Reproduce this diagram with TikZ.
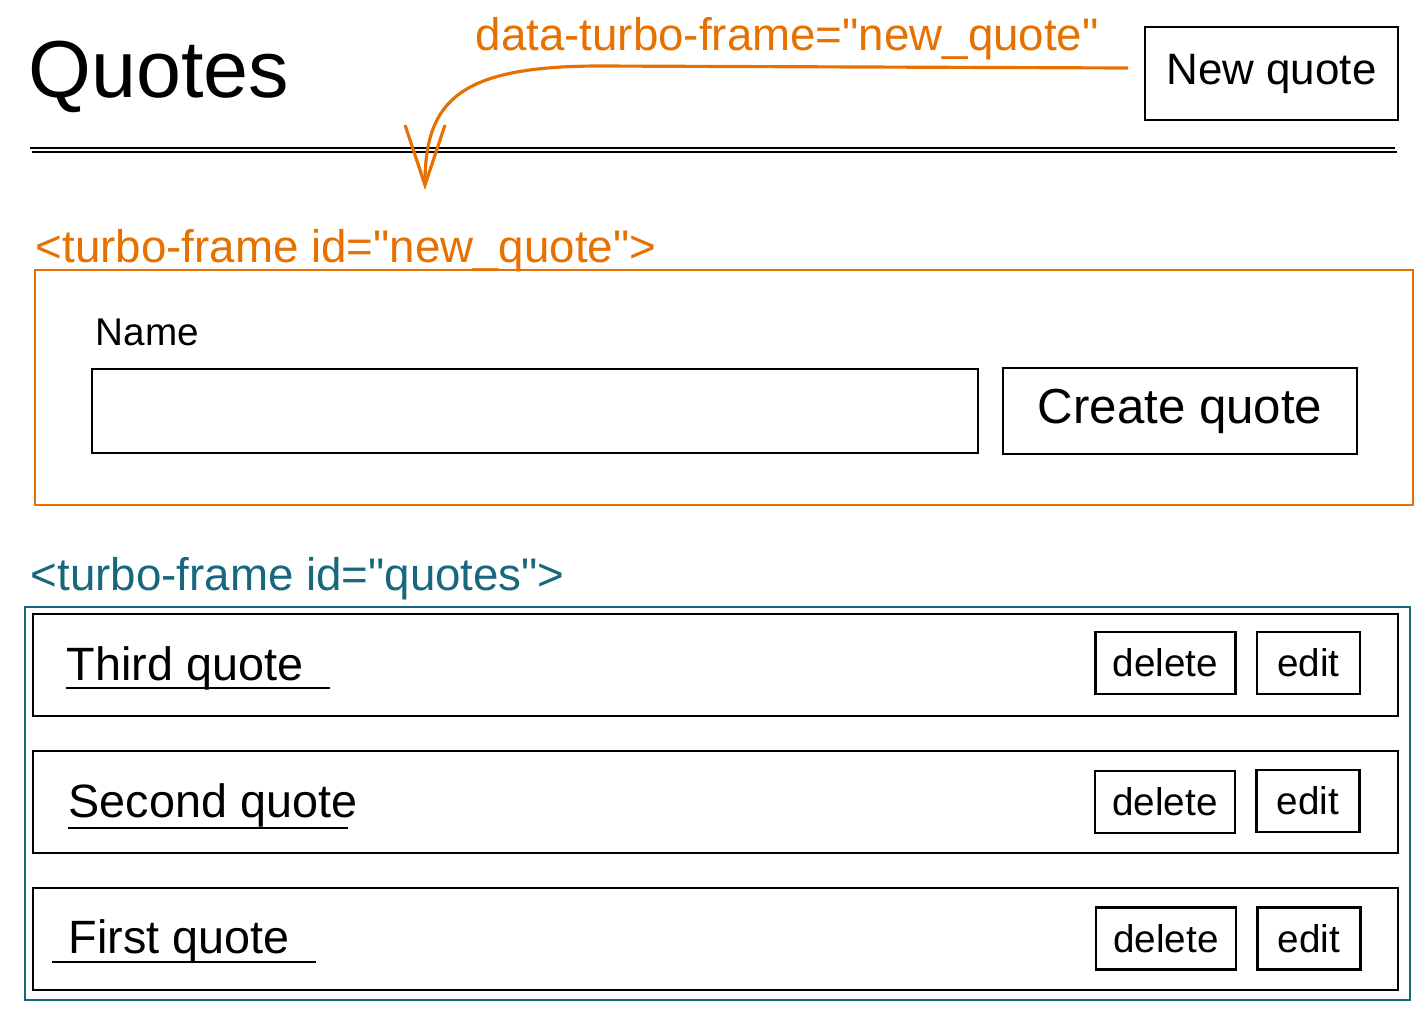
\documentclass[tikz,border=0pt]{standalone}
\usepackage{fontspec}
\setmainfont{Liberation Sans}
\usepackage{tikz}
\usetikzlibrary{calc}
\usetikzlibrary{arrows.meta}

\definecolor{frameorange}{RGB}{230,112,0}
\definecolor{frameteal}{RGB}{24,104,125}

\tikzset{
  btn/.style={draw,black,line width=.75pt,inner sep=0pt,minimum height=.62cm},
  txt/.style={inner sep=0pt,anchor=base west},
  tag/.style={txt,font=\fontsize{13}{15}\selectfont},
}

\begin{document}
\begin{tikzpicture}

\useasboundingbox (0,0) rectangle (14.28,-10.24);

% header
\node[txt,font=\fontsize{23}{27}\selectfont] (title) at (.28,-.97) {Quotes};
\draw[black,line width=.7pt] (.30,-1.48)--(13.95,-1.48);
\draw[black,line width=.7pt] (.32,-1.52)--(13.97,-1.52);

\node[btn,minimum width=2.53cm,minimum height=.93cm,font=\fontsize{12.5}{15}\selectfont] (newbtn) at (12.715,-.735) {New quote};

\node[tag,text=frameorange] (attr) at (4.75,-.50) {data-turbo-frame=\textquotedbl new\_quote\textquotedbl};

\coordinate (arrstart) at (11.28,-.68);
\coordinate (arrtip) at (4.25,-1.90);
\draw[frameorange,line width=.9pt,-{Straight Barb[length=6mm,width=4mm]}] (arrstart)--(6.0,-.66) .. controls (4.6,-.66) and (4.25,-1.0) .. (arrtip);

% new quote frame
\node[tag,text=frameorange] (newlabel) at (.35,-2.62) {<turbo-frame id=\textquotedbl new\_quote\textquotedbl>};
\draw[frameorange,line width=.7pt] (.35,-2.70) rectangle (14.13,-5.05);

\node[txt,font=\fontsize{11}{13}\selectfont] (name) at (.95,-3.45) {Name};
\draw[black,line width=.75pt] (.92,-3.69) rectangle (9.78,-4.53);
\node[btn,minimum width=3.54cm,minimum height=.86cm,font=\fontsize{14}{17}\selectfont] (createbtn) at (11.80,-4.11) {Create quote};

% quotes frame
\node[tag,text=frameteal] (quoteslabel) at (.30,-5.90) {<turbo-frame id=\textquotedbl quotes\textquotedbl>};
\draw[frameteal,line width=.7pt] (.25,-6.07) rectangle (14.10,-10.00);

\draw[black,line width=.8pt] (.33,-6.14) rectangle (13.98,-7.16);
\draw[black,line width=.8pt] (.33,-7.51) rectangle (13.98,-8.53);
\draw[black,line width=.8pt] (.33,-8.88) rectangle (13.98,-9.90);

\node[txt,font=\fontsize{13.3}{16}\selectfont] (third) at (.66,-6.80) {Third quote};
\node[txt,font=\fontsize{13.3}{16}\selectfont] (second) at (.68,-8.17) {Second quote};
\node[txt,font=\fontsize{13.3}{16}\selectfont] (first) at (.68,-9.53) {First quote};
\draw[black,line width=.8pt] (.66,-6.88)--(3.30,-6.88);
\draw[black,line width=.8pt] (.68,-8.28)--(3.48,-8.28);
\draw[black,line width=.8pt] (.52,-9.62)--(3.16,-9.62);

\node[btn,minimum width=1.40cm,font=\fontsize{11}{13}\selectfont] (del3) at (11.655,-6.63) {delete};
\node[btn,minimum width=1.03cm,font=\fontsize{11}{13}\selectfont] (edit3) at (13.085,-6.63) {edit};
\node[btn,minimum width=1.40cm,font=\fontsize{11}{13}\selectfont] (del2) at (11.65,-8.02) {delete};
\node[btn,minimum width=1.03cm,font=\fontsize{11}{13}\selectfont] (edit2) at (13.08,-8.01) {edit};
\node[btn,minimum width=1.40cm,font=\fontsize{11}{13}\selectfont] (del1) at (11.66,-9.385) {delete};
\node[btn,minimum width=1.03cm,font=\fontsize{11}{13}\selectfont] (edit1) at (13.09,-9.385) {edit};

\end{tikzpicture}
\end{document}
